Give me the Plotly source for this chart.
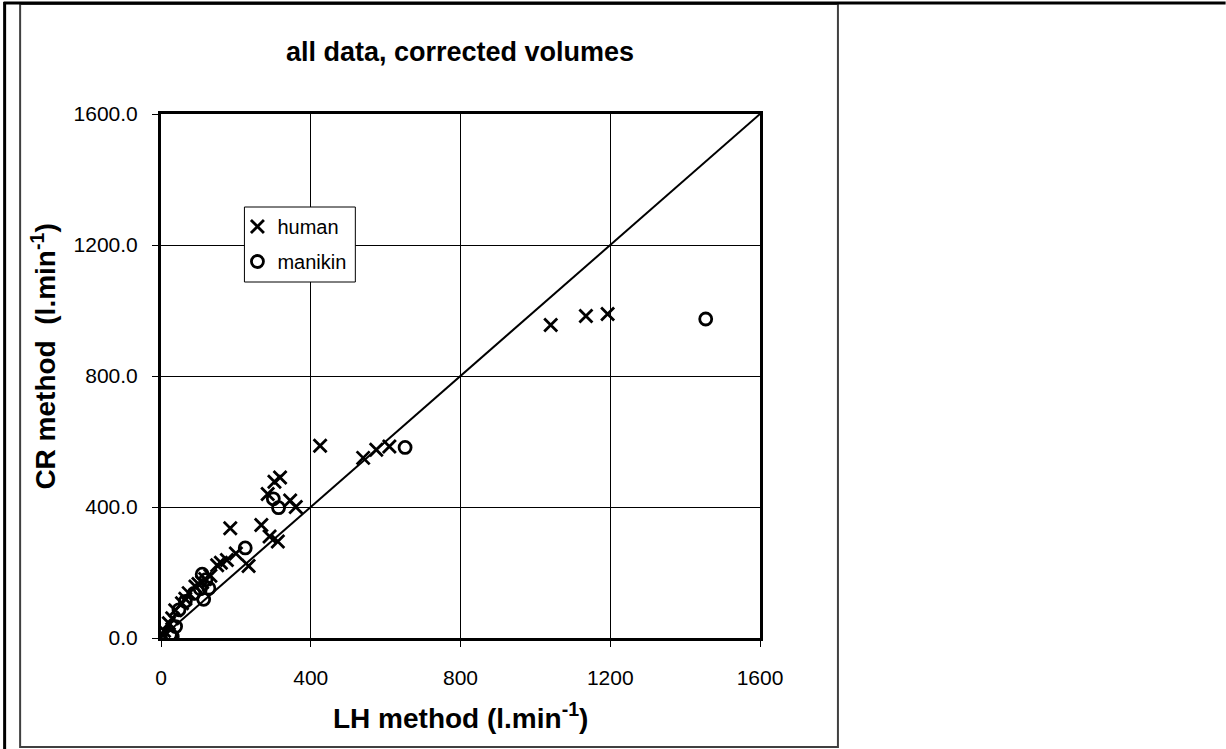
import plotly.graph_objects as go

# ---- data ----
human_lh = [1041, 1135, 1193, 610, 575, 540, 425, 318, 303, 285, 360, 345, 268, 290, 312,
            185, 234, 176, 160, 200, 150, 132, 118, 100, 92, 74, 56, 38, 21, 8, 4, 30, 65, 110]
human_cr = [956, 983, 989, 585, 575, 550, 587, 490, 477, 440, 400, 420, 345, 310, 295,
            335, 220, 238, 230, 258, 222, 190, 180, 165, 157, 137, 106, 85, 45, 22, 10, 60, 120, 170]

manikin_lh = [1455, 652, 314, 300, 225, 110, 120, 128, 114, 88, 65, 48, 39, 25, 30, 105]
manikin_cr = [974, 582, 398, 425, 275, 195, 178, 152, 118, 136, 112, 86, 35, 10, 5, 150]

identity = [0, 1600]
tick_vals = [0, 400, 800, 1200, 1600]

FONT = "Liberation Sans, Arial, sans-serif"

W, H = 1226, 749
L, R, T, B = 160.5, 760, 114, 638


def px(x):
    return (x - L) / (R - L)


def py(y):
    return (B - y) / (B - T)


fig = go.Figure()

fig.add_trace(go.Scatter(x=identity, y=identity, mode="lines",
                         line=dict(color="black", width=2), showlegend=False,
                         hoverinfo="skip"))

fig.add_trace(go.Scatter(x=human_lh, y=human_cr, mode="markers", name="human",
                         legendgroup="h",
                         marker=dict(symbol="x-thin-open", size=13, color="black",
                                     line=dict(color="black", width=2.8))))

fig.add_trace(go.Scatter(x=manikin_lh, y=manikin_cr, mode="markers", name="manikin",
                         legendgroup="m",
                         marker=dict(symbol="circle-open", size=12, color="black",
                                     line=dict(color="black", width=2.8))))

axis_common = dict(
    range=[0, 1600], tickvals=tick_vals, showgrid=True, gridcolor="black", gridwidth=1,
    showline=True, linecolor="black", linewidth=3, mirror=True,
    ticks="outside", ticklen=6, tickwidth=1, tickcolor="black",
    tickfont=dict(family=FONT, size=21, color="black"), zeroline=False,
)

fig.update_layout(
    width=W, height=H, autosize=False,
    margin=dict(l=L, r=W - R, t=T, b=H - B, pad=0),
    paper_bgcolor="white", plot_bgcolor="white",
    xaxis=dict(**axis_common, ticklabelstandoff=13),
    yaxis=dict(**axis_common, tickformat=".1f", ticklabelstandoff=10),
    showlegend=True,
    legend=dict(x=px(237), y=py(207), xanchor="left", yanchor="top",
                bgcolor="rgba(0,0,0,0)", borderwidth=0,
                font=dict(family=FONT, size=20, color="black"),
                tracegroupgap=6, itemwidth=30),
    annotations=[
        dict(text="<b>all data, corrected volumes</b>", xref="paper", yref="paper",
             x=px(460), y=py(52), xanchor="center", yanchor="middle", showarrow=False,
             font=dict(family=FONT, size=27, color="black")),
        dict(text="<b>LH method (l.min<sup>-1</sup>)</b>", xref="paper", yref="paper",
             x=px(460), y=py(716), xanchor="center", yanchor="middle", showarrow=False,
             font=dict(family=FONT, size=28, color="black")),
        dict(text="<b>CR method  (l.min<sup>-1</sup>)</b>", xref="paper", yref="paper",
             x=px(43), y=py(357), xanchor="center", yanchor="middle", showarrow=False,
             textangle=-90, font=dict(family=FONT, size=28, color="black")),
    ],
    shapes=[
        dict(type="rect", xref="paper", yref="paper", x0=px(244), x1=px(355),
             y0=py(207), y1=py(282), line=dict(color="black", width=1),
             fillcolor="white", layer="above"),
        dict(type="rect", xref="paper", yref="paper", x0=px(19.5), x1=px(838),
             y0=py(4), y1=py(747), line=dict(color="#404040", width=2)),
        dict(type="line", xref="paper", yref="paper", x0=px(3), x1=px(1226),
             y0=py(3), y1=py(3), line=dict(color="black", width=3)),
        dict(type="line", xref="paper", yref="paper", x0=px(4), x1=px(4),
             y0=py(2), y1=py(749), line=dict(color="black", width=3)),
    ],
)

fig.write_html("out.html")
